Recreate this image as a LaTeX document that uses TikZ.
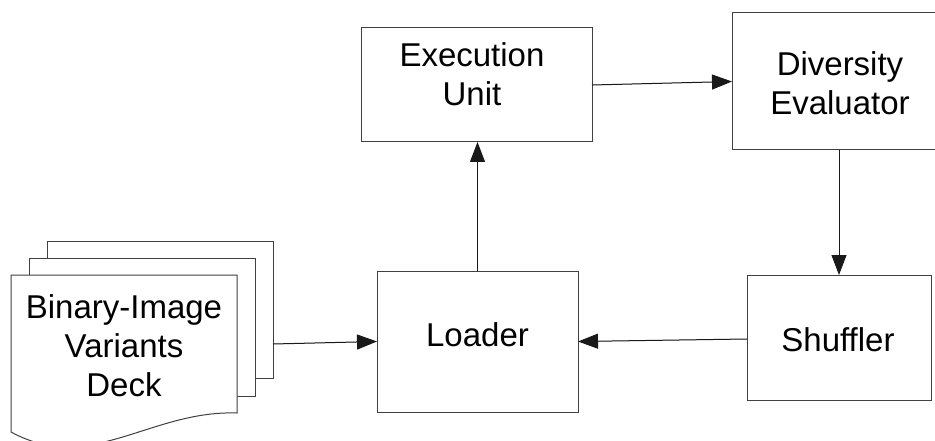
\documentclass[tikz,border=0pt]{standalone}
\usepackage{fontspec}
\setmainfont{Liberation Sans}
\usetikzlibrary{arrows.meta,calc}

\tikzset{
  box/.style={draw=black!75, line width=1pt, fill=white, inner sep=0pt, outer sep=0pt},
  sheet/.style={draw=black!75, line width=1pt, fill=white},
  lbl/.style={font=\fontsize{33}{39}\selectfont, align=center, inner sep=0pt, anchor=center},
  arr/.style={-{Triangle[length=20pt,width=15pt]}, line width=1pt, draw=black!90, fill=black}
}

\begin{document}
\begin{tikzpicture}[x=1pt, y=-1pt]
  \clip (0,0) rectangle (935,441);
  \fill[white] (0,0) rectangle (935,441);

  % stacked document pages
  \draw[sheet] (47,241) rectangle (273,378);
  \draw[sheet] (29,258) rectangle (255,396);
  \draw[sheet] (11,432) -- (11,275) -- (237,275) -- (237,413)
    .. controls (150,410) and (90,475) .. (11,432) -- cycle;
  \node[lbl] (decktext) at (124,346) {Binary-Image\\Variants\\Deck};
  \coordinate (deckout) at (273,344);

  % processing blocks
  \node[box, minimum width=231pt, minimum height=114pt] (exec) at (476.5,85) {};
  \node[lbl] (exectext) at (472,74) {Execution\\Unit};

  \node[box, minimum width=214pt, minimum height=137pt] (div) at (839,81.5) {};
  \node[lbl] (divtext) at (840,83) {Diversity\\Evaluator};

  \node[box, minimum width=184pt, minimum height=125pt] (shuf) at (839,337.5) {};
  \node[lbl] (shuftext) at (838,340) {Shuffler};

  \node[box, minimum width=201pt, minimum height=141pt] (load) at (477.5,341.5) {};
  \node[lbl] (loadtext) at (477.5,335) {Loader};

  % data flow
  \draw[arr] (deckout) -- (load.west);
  \draw[arr] (load.north) -- (load.north |- exec.south);
  \draw[arr] (exec.east) -- (div.west);
  \draw[arr] (div.south) -- (shuf.north);
  \draw[arr] ($(shuf.west)+(0,1.5)$) -- (load.east);
\end{tikzpicture}
\end{document}
